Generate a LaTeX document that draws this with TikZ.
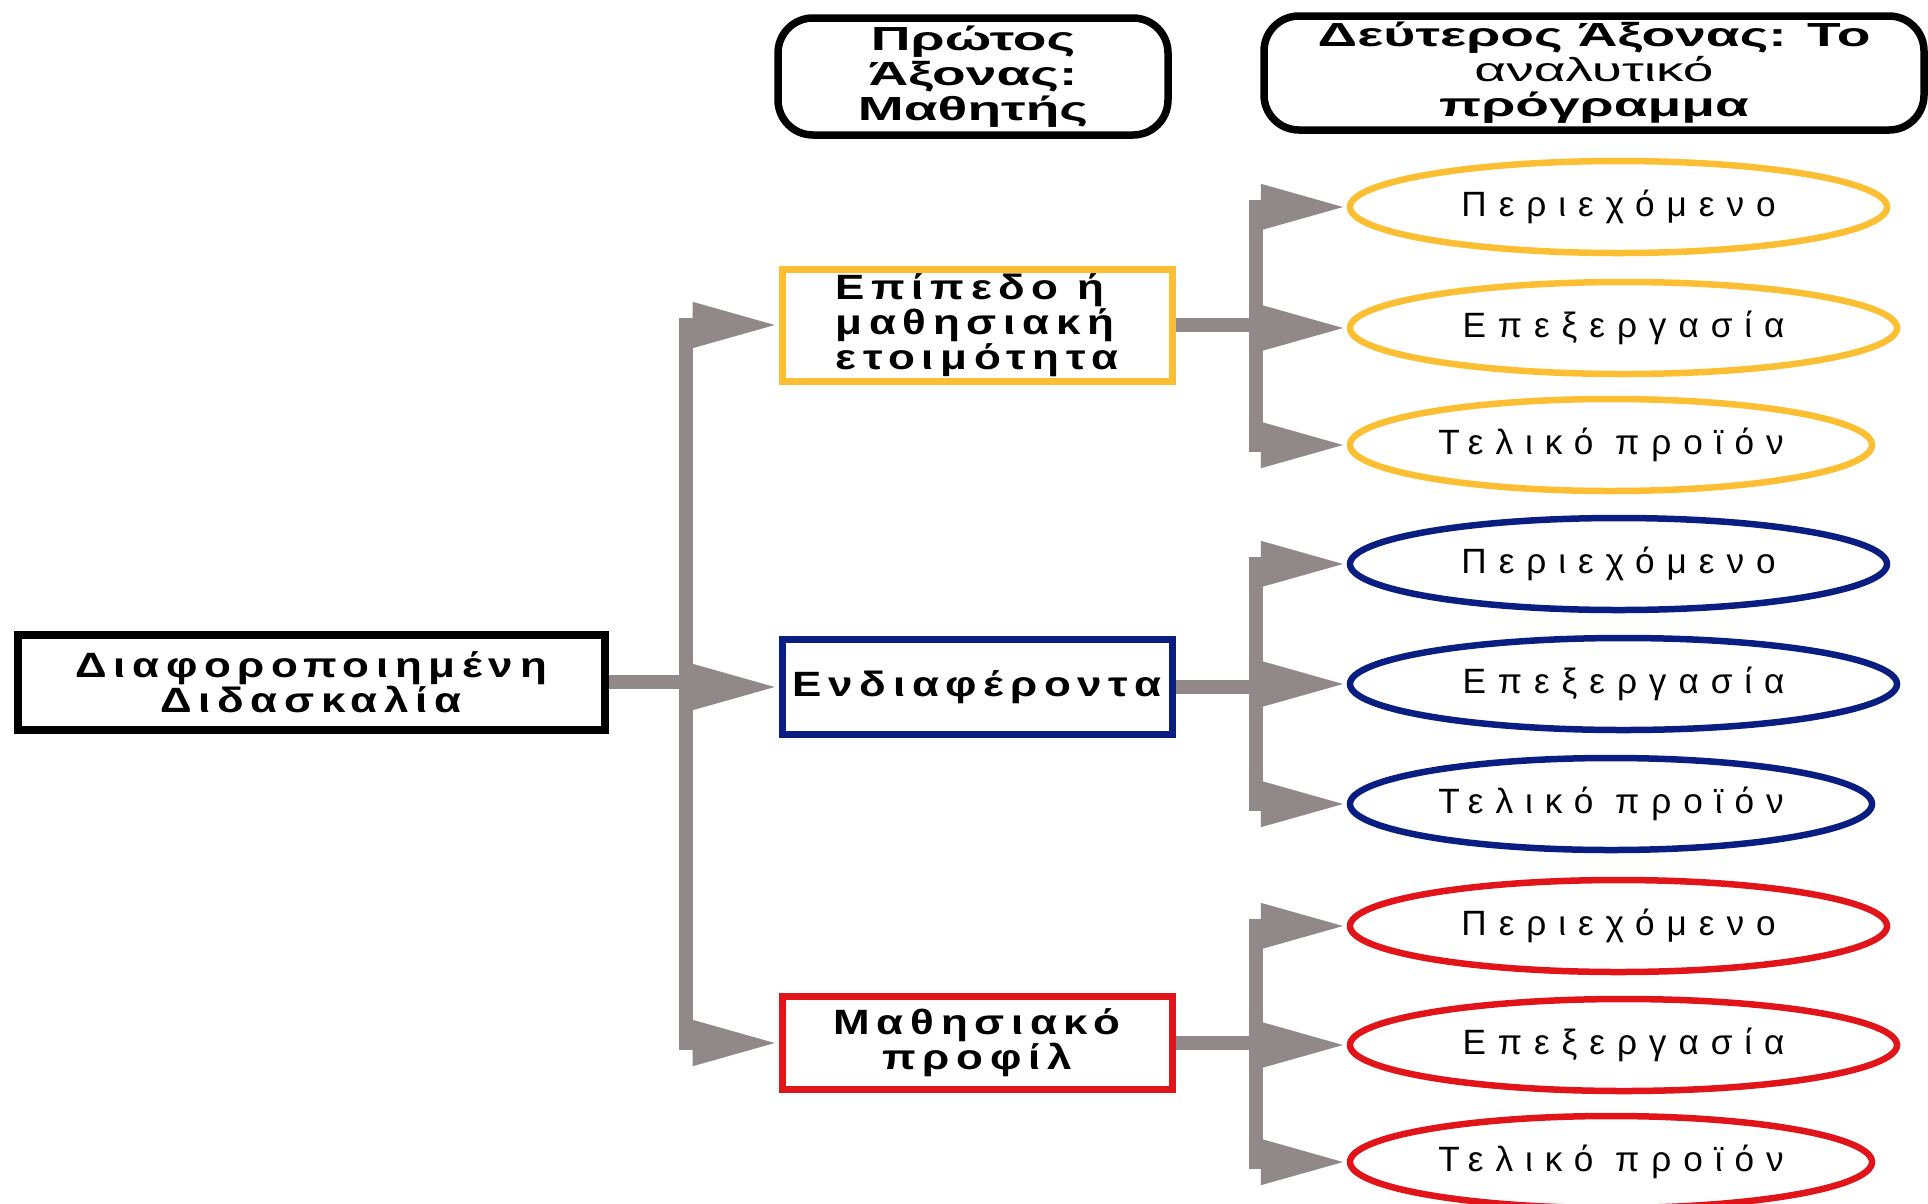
\documentclass[tikz,border=0pt]{standalone}
\usepackage{fontspec}
\setmainfont{Liberation Sans}
\usetikzlibrary{shapes.geometric, arrows.meta, positioning}
\definecolor{axisgray}{RGB}{145, 137, 137}
\definecolor{lvlyellow}{RGB}{252, 190, 50}
\definecolor{lvlblue}{RGB}{10, 30, 130}
\definecolor{lvlred}{RGB}{225, 20, 25}
\newfontfamily\headfont[FakeStretch=1.65]{Liberation Sans}
\newfontfamily\boxfont[FakeStretch=1.25, LetterSpace=19]{Liberation Sans}
\newfontfamily\ellfont[LetterSpace=34]{Liberation Sans}

\begin{document}
\begin{tikzpicture}[
    box/.style={rectangle, draw, line width=0.07cm, minimum width=3.9cm,
                align=center, inner sep=0pt, font=\boxfont\bfseries\fontsize{10}{10}\selectfont},
    head/.style={rectangle, rounded corners=0.35cm, draw, line width=0.075cm,
                 align=center, inner sep=0pt, font=\headfont\bfseries\fontsize{9.5}{10}\selectfont},
    item/.style={ellipse, draw, line width=0.065cm, minimum height=0.92cm,
                 inner sep=0pt, font=\ellfont\fontsize{10}{10}\selectfont},
    conn/.style={draw=axisgray, line width=0.14cm, -{Triangle[length=0.86cm, width=0.42cm]}}]

    \useasboundingbox (0, 0) rectangle (19.28, -12.03);

    % Axes
    \node[head, minimum width=3.9cm, minimum height=1.17cm] (student) at (9.73, -0.765) {Πρώτος\\Άξονας:\\Μαθητής};
    \node[head, minimum width=6.6cm, minimum height=1.14cm] (curriculum) at (15.94, -0.73) {Δεύτερος Άξονας: Το\\{\mdseries αναλυτικό}\\πρόγραμμα};

    % Root
    \node[box, minimum width=5.87cm, minimum height=0.95cm, line width=0.08cm] (root) at (3.11, -6.82) {Διαφοροποιημένη\\Διδασκαλία};

    % Student features
    \node[box, draw=lvlyellow, minimum height=1.12cm, align=left] (level) at (9.77, -3.25) {Επίπεδο ή\\μαθησιακή\\ετοιμότητα};
    \node[box, draw=lvlblue, minimum height=0.95cm] (interest) at (9.77, -6.87) {Ενδιαφέροντα};
    \node[box, draw=lvlred, minimum height=0.93cm] (profile) at (9.77, -10.43) {Μαθησιακό\\προφίλ};

    % Curriculum parts
    \node[item, draw=lvlyellow, minimum width=5.37cm] (lvcont) at (16.185, -2.07) {Περιεχόμενο};
    \node[item, draw=lvlyellow, minimum width=5.47cm] (lvproc) at (16.235, -3.28) {Επεξεργασία};
    \node[item, draw=lvlyellow, minimum width=5.22cm] (lvprod) at (16.11, -4.45) {Τελικό προϊόν};

    \node[item, draw=lvlblue, minimum width=5.37cm] (incont) at (16.185, -5.64) {Περιεχόμενο};
    \node[item, draw=lvlblue, minimum width=5.47cm] (inproc) at (16.235, -6.84) {Επεξεργασία};
    \node[item, draw=lvlblue, minimum width=5.22cm] (inprod) at (16.11, -8.04) {Τελικό προϊόν};

    \node[item, draw=lvlred, minimum width=5.37cm] (prcont) at (16.185, -9.26) {Περιεχόμενο};
    \node[item, draw=lvlred, minimum width=5.47cm] (prproc) at (16.235, -10.45) {Επεξεργασία};
    \node[item, draw=lvlred, minimum width=5.22cm] (prprod) at (16.11, -11.62) {Τελικό προϊόν};

    % Arrows
    \draw[conn] (root.east) -- ++(0.77, 0) |- (level.west);
    \draw[conn] (root.east) -- ++(0.77, 0) |- (interest.west);
    \draw[conn] (root.east) -- ++(0.77, 0) |- (profile.west);

    \draw[conn] (level.east) -- ++(0.8, 0) |- (lvcont.west);
    \draw[conn] (level.east) -- ++(0.8, 0) |- (lvproc.west);
    \draw[conn] (level.east) -- ++(0.8, 0) |- (lvprod.west);

    \draw[conn] (interest.east) -- ++(0.8, 0) |- (incont.west);
    \draw[conn] (interest.east) -- ++(0.8, 0) |- (inproc.west);
    \draw[conn] (interest.east) -- ++(0.8, 0) |- (inprod.west);

    \draw[conn] (profile.east) -- ++(0.8, 0) |- (prcont.west);
    \draw[conn] (profile.east) -- ++(0.8, 0) |- (prproc.west);
    \draw[conn] (profile.east) -- ++(0.8, 0) |- (prprod.west);
\end{tikzpicture}
\end{document}
